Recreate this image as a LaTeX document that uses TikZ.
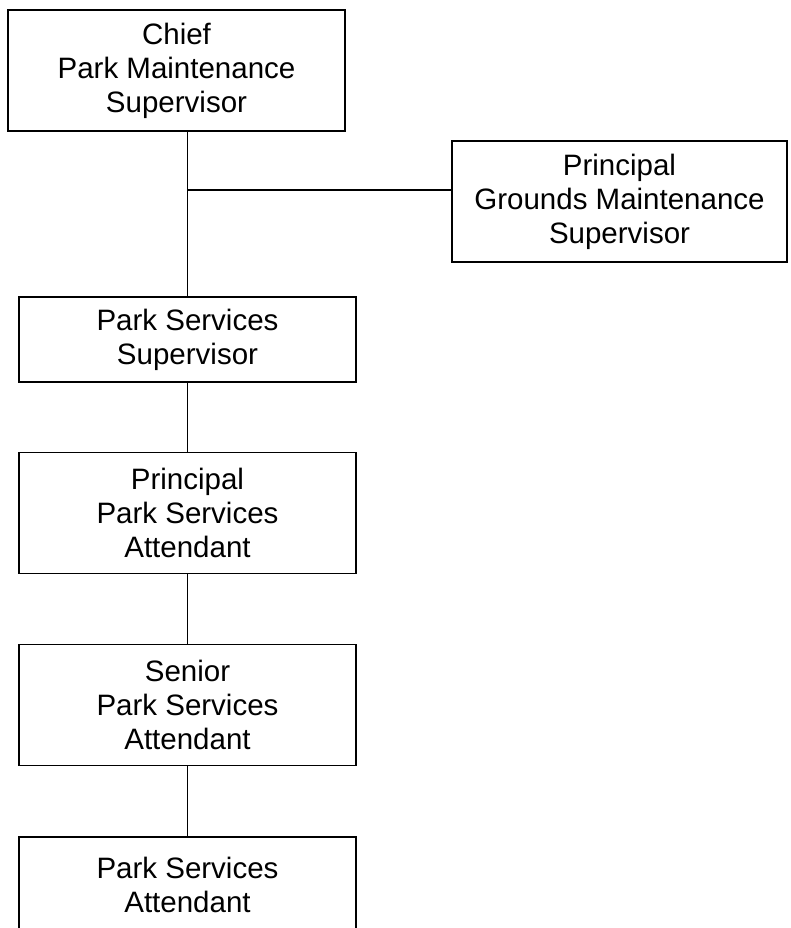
\documentclass[tikz,border=0pt]{standalone}
\usepackage{fontspec}
\setmainfont{Liberation Sans}
\usetikzlibrary{positioning}

\begin{document}
\begin{tikzpicture}[x=1pt, y=-1pt,
        post/.style={draw, line width=1.6pt, align=center, inner sep=0pt,
                     minimum width=337pt, minimum height=121pt,
                     font=\fontsize{29.5pt}{34pt}\selectfont},
        short/.style={minimum height=85pt},
        link/.style={line width=1.6pt}
      ]
      \useasboundingbox (0,0) rectangle (790,928);
      \node[post] (chief) at (176.5,70.5) {Chief\\ Park Maintenance\\ Supervisor};
      \node[post, minimum width=335pt] (grounds) at (619.5,201.5) {Principal\\ Grounds Maintenance\\ Supervisor};
      \node[post, short] (pss) at (187.5,339.5) {Park Services\\ Supervisor};
      \node[post] (ppsa) at (187.5,513) {Principal\\ Park Services\\ Attendant};
      \node[post] (spsa) at (187.5,705) {Senior\\ Park Services\\ Attendant};
      \node[post, minimum height=95pt] (psa) at (187.5,884.5) {Park Services\\ Attendant};
      \coordinate (branch) at (187.5,190);
      \draw[link] (pss.north |- chief.south) -- (pss.north);
      \draw[link] (branch) -- (branch -| grounds.west);
      \draw[link] (pss) -- (ppsa);
      \draw[link] (ppsa) -- (spsa);
      \draw[link] (spsa) -- (psa);
    \end{tikzpicture}
\end{document}
